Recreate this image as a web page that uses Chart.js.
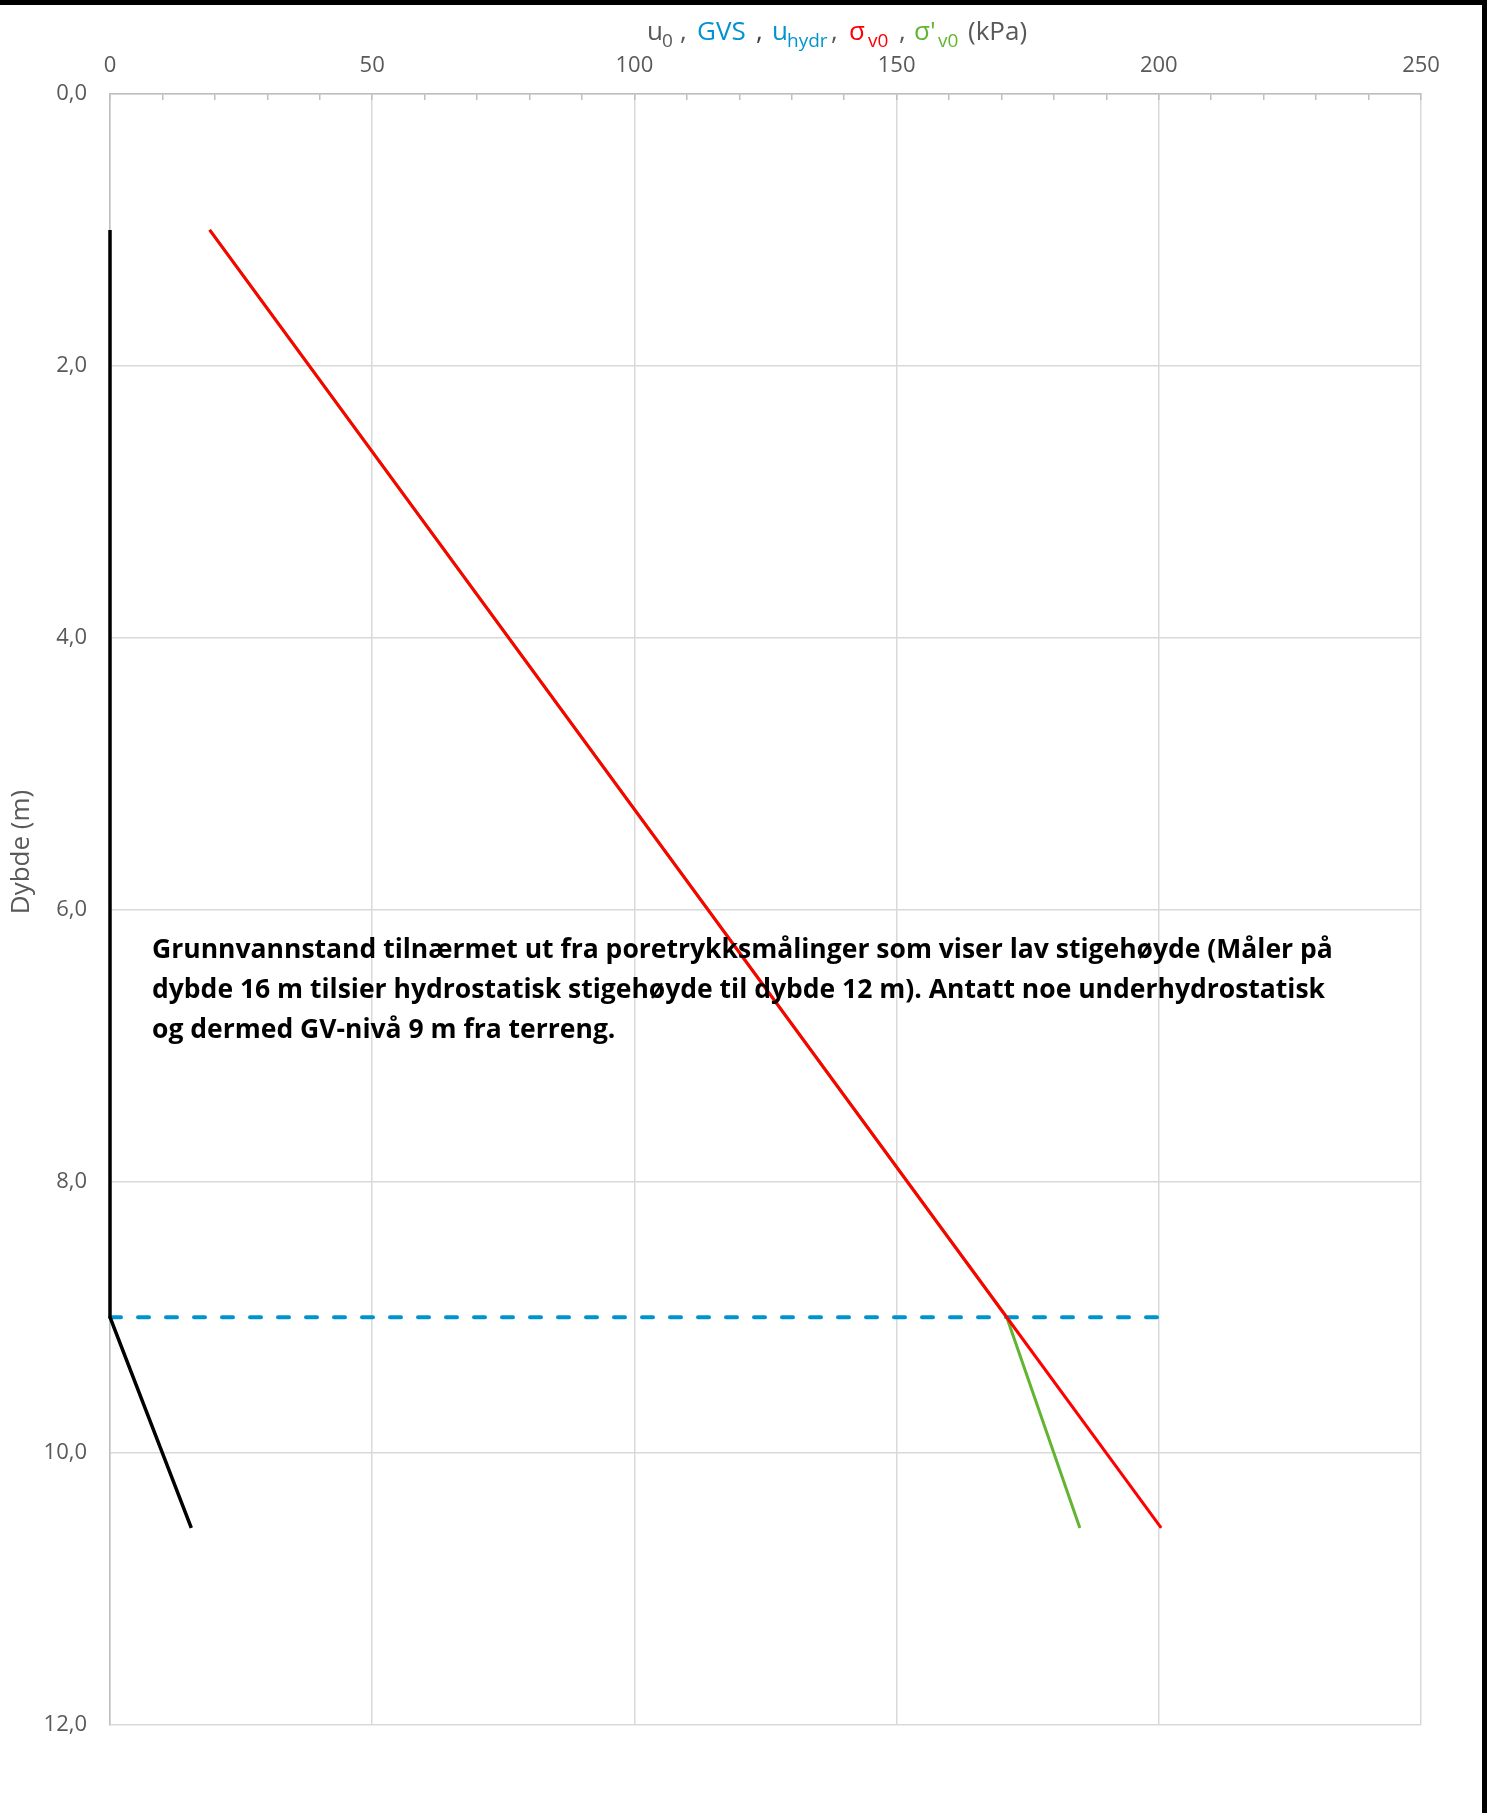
<!DOCTYPE html>
<html>
<head>
<meta charset="utf-8">
<script src="https://cdn.jsdelivr.net/npm/chart.js@4.4.1/dist/chart.umd.min.js"></script>
<style>
  html, body { margin: 0; padding: 0; background: #fff; }
  #wrap { position: relative; width: 1487px; height: 1813px; overflow: hidden; }
  #frameTop { position: absolute; left: 0; top: 0; width: 1487px; height: 5px; background: #000; }
  #frameRight { position: absolute; right: 0; top: 0; width: 5px; height: 1813px; background: #000; }
</style>
</head>
<body>
<div id="wrap">
  <canvas id="c" width="1487" height="1813"></canvas>
  <div id="frameTop"></div>
  <div id="frameRight"></div>
</div>
<script>
// Depth profile (m) and pressures (kPa)
const depthProfile = [1.0, 9.0, 10.55];
const u0Values     = [0, 0, 15.5];        // pore pressure
const uHydrValues  = [0, 0, 15.5];        // hydrostatic pore pressure
const sigmaV0      = [19, 171, 200.45];   // total vertical stress
const sigmaV0Eff   = [19, 171, 184.95];   // effective vertical stress
const gvsDepth     = [9.0, 9.0];          // groundwater level
const gvsValues    = [0, 200];

const xTicks = [0, 50, 100, 150, 200, 250];
const yTicks = [0, 2, 4, 6, 8, 10, 12];

const noteLines = [
  'Grunnvannstand tilnærmet ut fra poretrykksmålinger som viser lav stigehøyde (Måler på',
  'dybde 16 m tilsier hydrostatisk stigehøyde til dybde 12 m). Antatt noe underhydrostatisk',
  'og dermed GV-nivå 9 m fra terreng.'
];

const GRAY = '#595959';
const BLUE = '#0094cf';
const RED = '#ff0000';
const GREEN = '#62b530';

const toPoints = (xs, ys) => xs.map((x, i) => ({ x: x, y: ys[i] }));

const FONT = '"Open Sans", "DejaVu Sans", sans-serif';

// Multi-coloured axis title with subscripts, plus the note and the depth title
const textPlugin = {
  id: 'profileTexts',
  afterDraw(chart) {
    const ctx = chart.ctx;
    ctx.save();

    // note text box
    ctx.fillStyle = '#000';
    ctx.font = 'bold 26.5px ' + FONT;
    ctx.textAlign = 'left';
    ctx.textBaseline = 'alphabetic';
    noteLines.forEach((t, i) => ctx.fillText(t, 152, 958 + i * 40));

    // x-axis title: each run placed at its own x position
    const segs = [
      { t: 'u', c: GRAY, x: 647 }, { t: '0', c: GRAY, x: 662, sub: true }, { t: ',', c: GRAY, x: 680 },
      { t: 'GVS', c: BLUE, x: 697 }, { t: ',', c: '#404040', x: 756 },
      { t: 'u', c: BLUE, x: 772 }, { t: 'hydr', c: BLUE, x: 787, sub: true }, { t: ',', c: GRAY, x: 831 },
      { t: 'σ', c: RED, x: 849 }, { t: 'v0', c: RED, x: 868, sub: true }, { t: ',', c: GRAY, x: 899 },
      { t: "σ'", c: GREEN, x: 914 }, { t: 'v0', c: GREEN, x: 938, sub: true }, { t: '(kPa)', c: GRAY, x: 968 }
    ];
    const base = 40;
    ctx.textAlign = 'left';
    segs.forEach(s => {
      ctx.font = (s.sub ? '19px ' : '26px ') + FONT;
      ctx.fillStyle = s.c;
      ctx.fillText(s.t, s.x, s.sub ? base + 7 : base);
    });

    // y-axis title
    ctx.translate(22, 852);
    ctx.rotate(-Math.PI / 2);
    ctx.font = '26px ' + FONT;
    ctx.fillStyle = GRAY;
    ctx.textAlign = 'center';
    ctx.textBaseline = 'middle';
    ctx.fillText('Dybde (m)', 0, 0);
    ctx.restore();
  }
};

new Chart(document.getElementById('c'), {
  type: 'scatter',
  data: {
    datasets: [
      { label: 'u0', data: toPoints(u0Values, depthProfile), borderColor: '#000', borderWidth: 3.5 },
      { label: 'σv0', data: toPoints(sigmaV0, depthProfile), borderColor: RED, borderWidth: 3 },
      { label: "σ'v0", data: toPoints(sigmaV0Eff, depthProfile), borderColor: GREEN, borderWidth: 3 },
      { label: 'GVS', data: toPoints(gvsValues, gvsDepth), borderColor: BLUE, borderWidth: 4,
        borderDash: [11, 17], borderCapStyle: 'round' },
      { label: 'uhydr', data: toPoints(uHydrValues, depthProfile), borderColor: BLUE, borderWidth: 2 }
    ].map(d => Object.assign({ showLine: true, pointRadius: 0, pointHoverRadius: 0, fill: false, tension: 0, clip: false }, d))
  },
  options: {
    responsive: false,
    animation: false,
    layout: { padding: { left: 0, right: 66, top: 0, bottom: 88 } },
    plugins: { legend: { display: false }, tooltip: { enabled: false } },
    scales: {
      x: {
        type: 'linear', position: 'top', min: 0, max: 250,
        afterBuildTicks: s => {
          const t = [];
          for (let v = 0; v <= 250; v += 10) t.push({ value: v });
          s.ticks = t;
        },
        ticks: {
          autoSkip: false, maxRotation: 0, padding: 21, color: GRAY,
          font: { family: FONT, size: 22 },
          callback: v => (xTicks.includes(v) ? String(v) : '')
        },
        grid: {
          color: c => (c.tick && xTicks.includes(c.tick.value) ? '#d9d9d9' : 'rgba(0,0,0,0)'),
          lineWidth: 1.5, drawTicks: true, tickLength: -6, tickColor: '#bfbfbf', tickWidth: 1.5
        },
        border: { color: '#bfbfbf', width: 1.5 },
        afterFit: s => { s.height = 94; }
      },
      y: {
        type: 'linear', reverse: true, min: 0, max: 12,
        afterBuildTicks: s => { s.ticks = yTicks.map(v => ({ value: v })); },
        ticks: {
          padding: 23, color: GRAY, font: { family: FONT, size: 22 },
          callback: v => v.toFixed(1).replace('.', ',')
        },
        grid: { color: '#d9d9d9', lineWidth: 1.5, drawTicks: false },
        border: { color: '#bfbfbf', width: 1.5 },
        afterFit: s => { s.width = 110; }
      }
    }
  },
  plugins: [textPlugin]
});
</script>
</body>
</html>
